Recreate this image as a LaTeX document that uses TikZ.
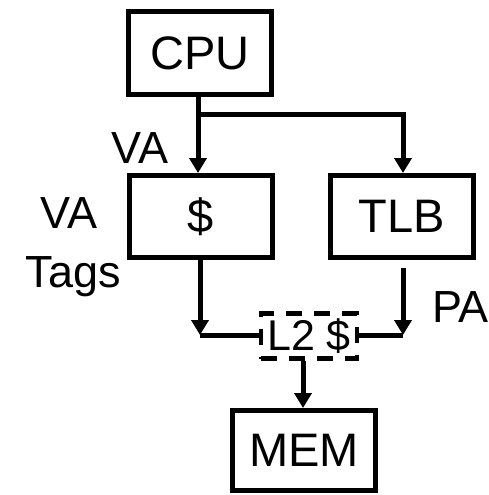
\documentclass[tikz,border=0pt]{standalone}
\usepackage{fontspec}
\setmainfont{Liberation Sans}
\usetikzlibrary{arrows.meta}
\begin{document}
\begin{tikzpicture}[x=1pt,y=-1pt,
  unit/.style={draw=black,line width=5pt,minimum width=143pt,inner sep=0pt,
    font=\fontsize{47}{50}\selectfont},
  label/.style={inner sep=0pt,anchor=base,font=\fontsize{45}{48}\selectfont},
  wire/.style={line width=5pt},
  feed/.style={wire,-{Triangle[length=15pt,width=17pt]}}]
\useasboundingbox (0,0) rectangle (488,495);

% blocks
\node[unit,minimum height=83pt] (cpu) at (200,53) {CPU};
\node[unit,minimum height=82pt] (l1) at (201,216.5) {\$};
\node[unit,minimum height=82pt] (tlb) at (402,216.5) {TLB};
\node[unit,minimum height=80pt] (mem) at (304,450.5) {MEM};
\node[draw=black,line width=4.5pt,dash pattern=on 16pt off 12pt,
  minimum width=96pt,minimum height=45pt,inner sep=0pt,
  font=\fontsize{43}{46}\selectfont] (l2) at (309,336) {L2 \$};

% side labels
\node[label] (va1) at (140,163) {VA};
\node[label] (va2) at (69,228) {VA};
\node[label] (tags) at (73,287) {Tags};
\node[label,anchor=base west] (pa) at (432,322) {PA};

% routing points
\coordinate (split) at (198,114);
\coordinate (lcorner) at (200,335);
\coordinate (rcorner) at (403,335);
\coordinate (tlbout) at (403,268);

% connectors
\draw[feed] (cpu.south -| split) -- (l1.north -| split);
\draw[feed] (split) -| (tlb.north -| rcorner);
\draw[feed] (l1.south -| lcorner) -- (lcorner);
\draw[wire] (lcorner) -- (l2.west |- lcorner);
\draw[feed] (tlbout) -- (rcorner);
\draw[wire] (rcorner) -- (l2.east |- rcorner);
\draw[feed] (l2.south -| 303,0) -- (mem.north -| 303,0);
\end{tikzpicture}
\end{document}
